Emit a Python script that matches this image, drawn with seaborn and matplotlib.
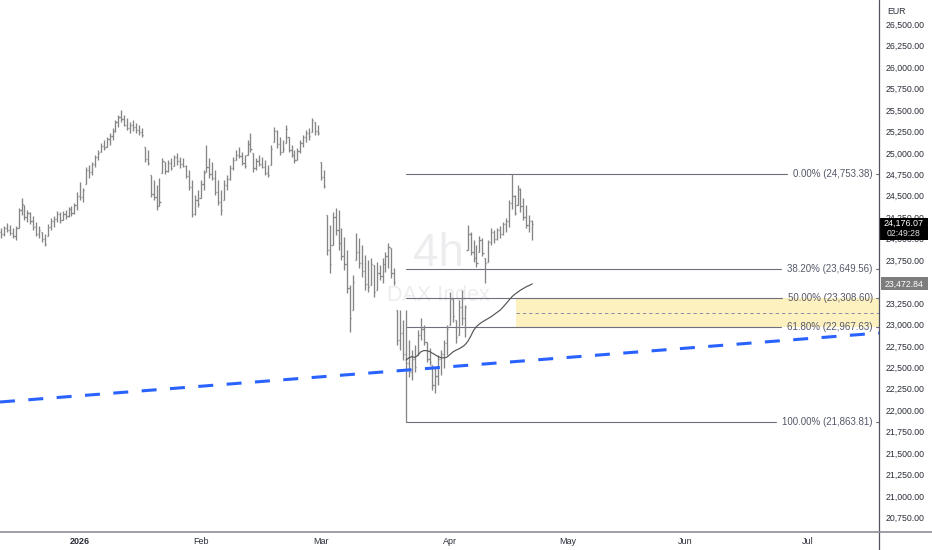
import numpy as np
import pandas as pd
import matplotlib
matplotlib.use("Agg")
import matplotlib.pyplot as plt
import seaborn as sns
from matplotlib.transforms import blended_transform_factory
from matplotlib.lines import Line2D
from matplotlib.patches import Rectangle

# ---------------- data ----------------
opens = [24080, 24060, 24120, 24100, 24070, 24030, 24125, 24330, 24390, 24250,
         24300, 24210, 24130, 24060, 24080, 24000, 24030, 24140, 24200, 24230,
         24290, 24220, 24290, 24260, 24340, 24300, 24390, 24500, 24480, 24635,
         24800, 24780, 24870, 24950, 25010, 25080, 25070, 25160, 25200, 25260,
         25360, 25420, 25400, 25330, 25290, 25320, 25300, 25270, 25240, 25070,
         24930, 24740, 24520, 24480, 24380, 24765, 24890, 24790, 24880, 24845,
         24950, 24900, 24870, 24850, 24730, 24600, 24290, 24450, 24475, 24640,
         24775, 24830, 24750, 24710, 24540, 24430, 24450, 24620, 24700, 24820,
         24920, 24980, 24960, 24880, 24975, 25100, 25000, 24820, 24900, 24870,
         24840, 24770, 24860, 25125, 25250, 25100, 25010, 25115, 25185, 25030,
         24980, 24920, 25020, 25120, 25180, 25230, 25245, 25360, 25250, 24895,
         24720, 24275, 23870, 23925, 24250, 24100, 23950, 23800, 23700, 23420,
         23170, 23750, 23850, 23720, 23620, 23470, 23460, 23695, 23400, 23600,
         23560, 23700, 23800, 23895, 23600, 23170, 22820, 22900, 22650, 22550,
         22450, 22600, 22640, 22880, 22950, 22795, 22600, 22525, 22300, 22400,
         22600, 22650, 22780, 22995, 23300, 23050, 22875, 23200, 23080, 23870,
         24050, 23850, 23780, 23845, 23980, 23775, 23730, 23960, 24080, 24000,
         24100, 24060, 24170, 24200, 24420, 24500, 24390, 24580, 24380, 24250,
         24160, 24200]
highs = [24125, 24150, 24185, 24160, 24125, 24150, 24360, 24475, 24390, 24335,
         24310, 24265, 24195, 24150, 24080, 24055, 24170, 24240, 24265, 24320,
         24310, 24320, 24335, 24370, 24380, 24415, 24545, 24660, 24590, 24835,
         24860, 24895, 24975, 25035, 25115, 25150, 25185, 25230, 25290, 25385,
         25440, 25500, 25440, 25405, 25360, 25385, 25350, 25325, 25290, 25070,
         25035, 24740, 24685, 24625, 24705, 24940, 24890, 24915, 24940, 24975,
         25000, 24950, 24940, 24860, 24800, 24685, 24510, 24570, 24685, 24800,
         25090, 24940, 24895, 24800, 24685, 24570, 24685, 24740, 24860, 24950,
         25035, 25070, 25010, 24975, 25150, 25230, 25000, 24940, 24975, 24950,
         24915, 24860, 25090, 25300, 25265, 25185, 25150, 25325, 25185, 25090,
         25035, 25055, 25150, 25210, 25265, 25290, 25405, 25360, 25325, 24895,
         24800, 24275, 24160, 24310, 24360, 24335, 24125, 24020, 23870, 23460,
         23575, 24065, 24005, 23925, 23810, 23750, 23775, 23695, 23730, 23695,
         23775, 23845, 23950, 23895, 23660, 23170, 23170, 23050, 23170, 22820,
         22700, 22760, 22935, 23075, 22990, 22795, 22725, 22525, 22490, 22640,
         22700, 22820, 22995, 23380, 23310, 23050, 23285, 23400, 23225, 24160,
         24080, 23985, 23925, 24030, 24005, 23775, 23985, 24125, 24100, 24125,
         24150, 24195, 24240, 24450, 24753.38, 24510, 24625, 24590, 24475, 24390,
         24275, 24215]
lows = [24005, 24030, 24080, 24040, 24005, 23985, 24125, 24275, 24215, 24195,
        24170, 24100, 24030, 24010, 23960, 23915, 24030, 24100, 24135, 24195,
        24180, 24215, 24230, 24250, 24265, 24290, 24335, 24450, 24430, 24635,
        24705, 24740, 24835, 24915, 25010, 25035, 25070, 25090, 25150, 25245,
        25300, 25360, 25310, 25265, 25230, 25255, 25230, 25210, 25185, 24895,
        24860, 24485, 24450, 24335, 24380, 24765, 24750, 24775, 24800, 24845,
        24860, 24825, 24830, 24705, 24570, 24250, 24275, 24370, 24475, 24565,
        24775, 24705, 24685, 24510, 24390, 24275, 24450, 24565, 24685, 24800,
        24915, 24940, 24860, 24825, 24975, 25010, 24780, 24800, 24845, 24825,
        24740, 24715, 24860, 25125, 25055, 24975, 25010, 25115, 25010, 24950,
        24880, 24915, 24995, 25070, 25125, 25150, 25245, 25210, 25210, 24685,
        24590, 23810, 23600, 23925, 24045, 23870, 23750, 23635, 23365, 22910,
        23170, 23750, 23660, 23555, 23400, 23380, 23460, 23320, 23400, 23520,
        23480, 23610, 23660, 23545, 23460, 22760, 22700, 22590, 21863.81, 22385,
        22350, 22445, 22640, 22820, 22760, 22560, 22525, 22235, 22200, 22290,
        22410, 22490, 22645, 22995, 23030, 22785, 22875, 22995, 22855, 23870,
        23810, 23730, 23670, 23845, 23795, 23480, 23730, 23925, 23950, 23985,
        24010, 24045, 24080, 24135, 24350, 24275, 24390, 24310, 24215, 24125,
        24080, 23985]
closes = [24060, 24120, 24100, 24070, 24030, 24120, 24330, 24400, 24250, 24300,
          24210, 24130, 24060, 24100, 24000, 23940, 24140, 24200, 24230, 24290,
          24220, 24290, 24260, 24340, 24300, 24390, 24500, 24480, 24570, 24800,
          24780, 24870, 24950, 25000, 25080, 25060, 25160, 25200, 25260, 25360,
          25420, 25400, 25330, 25290, 25320, 25300, 25270, 25240, 25210, 24930,
          24880, 24520, 24480, 24380, 24430, 24900, 24790, 24880, 24820, 24950,
          24900, 24870, 24850, 24730, 24600, 24290, 24450, 24400, 24640, 24760,
          24830, 24750, 24710, 24540, 24430, 24330, 24620, 24700, 24820, 24920,
          24980, 24960, 24880, 24850, 25100, 25040, 24820, 24900, 24870, 24840,
          24770, 24740, 25040, 25250, 25100, 25010, 25040, 25280, 25030, 24980,
          24920, 25020, 25120, 25180, 25230, 25200, 25380, 25250, 25230, 24720,
          24610, 23870, 23700, 24250, 24100, 23950, 23800, 23700, 23420, 23080,
          23500, 23850, 23720, 23620, 23470, 23440, 23700, 23380, 23600, 23560,
          23700, 23800, 23900, 23600, 23500, 22820, 22900, 22650, 22550, 22450,
          22600, 22500, 22880, 22950, 22800, 22600, 22560, 22300, 22400, 22600,
          22650, 22780, 22950, 23300, 23100, 22850, 23200, 23080, 23200, 24050,
          23850, 23780, 23720, 23980, 23830, 23720, 23960, 24080, 24000, 24100,
          24060, 24170, 24200, 24420, 24500, 24300, 24580, 24380, 24250, 24160,
          24200, 24176.07]

ma_start_bar = 138
ma_values = [22586, 22610, 22625, 22615, 22640, 22680, 22695, 22695, 22685, 22665,
             22645, 22625, 22612, 22610, 22620, 22650, 22680, 22700, 22715, 22735,
             22760, 22800, 22860, 22930, 22975, 23005, 23030, 23050, 23070, 23090,
             23115, 23140, 23165, 23200, 23240, 23280, 23320, 23350, 23375, 23400,
             23420, 23440, 23455, 23472.84]

fib_labels = ["0.00%", "38.20%", "50.00%", "61.80%", "100.00%"]
fib_prices = [24753.38, 23649.56, 23308.60, 22967.63, 21863.81]
fib_anchor_bar = 138

zone_top = 23308.60
zone_bottom = 22967.63
zone_start_bar = 175.5

trend_bars = [0, 181]
trend_prices = [22097, 22583]

month_labels = ["2026", "Feb", "Mar", "Apr", "May", "Jun", "Jul"]
month_bars = [27, 68, 109, 153, 193, 233, 275]

ytick_values = [20750, 21000, 21250, 21500, 21750, 22000, 22250, 22500, 22750,
                23000, 23250, 23500, 23750, 24000, 24250, 24500, 24750, 25000,
                25250, 25500, 25750, 26000, 26250, 26500]

last_price = 24176.07
countdown = "02:49:28"
ma_last = 23472.84

# ---------------- styling ----------------
sns.set_theme(style="white")
plt.rcParams['font.family'] = ['Liberation Sans', 'DejaVu Sans']

W, H = 932, 550
fig = plt.figure(figsize=(W / 100, H / 100), dpi=100)
fig.patch.set_facecolor("white")
ax_left_px, ax_right_px, ax_bottom_px = 0, 879, 531.7
ax = fig.add_axes([ax_left_px / W, (H - ax_bottom_px) / H,
                   (ax_right_px - ax_left_px) / W, ax_bottom_px / H])
ax.set_facecolor("white")
for s in ax.spines.values():
    s.set_visible(False)
ax.grid(False)

ax.set_xlim(-0.34, 299.15)
ax.set_ylim(20584.5, 26781.5)

df = pd.DataFrame({"open": opens, "high": highs, "low": lows, "close": closes})
df["bar"] = np.arange(len(df))

# watermark
ax.text(0.4985, 0.522, "4h", transform=ax.transAxes, ha="center", va="center",
        fontsize=33, color="#ededf0", zorder=0)
ax.text(0.4985, 0.445, "DAX Index", transform=ax.transAxes, ha="center", va="center",
        fontsize=15.5, color="#ededf0", zorder=0)

# yellow zone
ax.add_patch(Rectangle((zone_start_bar, zone_bottom), 400, zone_top - zone_bottom,
                       facecolor="#fdf1c0", edgecolor="none", zorder=1))
ax.plot([zone_start_bar, 400], [(zone_top + zone_bottom) / 2] * 2, color="#8f88aa",
        lw=0.7, dashes=(3.5, 3), zorder=2)

# OHLC bars
bar_color = "#858585"
lw_px = 0.95
ax.vlines(df["bar"], df["low"], df["high"], color=bar_color, lw=lw_px, zorder=3)
ax.hlines(df["open"], df["bar"] - 0.4, df["bar"], color=bar_color, lw=lw_px, zorder=3)
ax.hlines(df["close"], df["bar"], df["bar"] + 0.4, color=bar_color, lw=lw_px, zorder=3)

# moving average line
ma_df = pd.DataFrame({"bar": np.arange(ma_start_bar, ma_start_bar + len(ma_values)),
                      "ma": ma_values})
sns.lineplot(data=ma_df, x="bar", y="ma", ax=ax, color="#555555", lw=0.85, zorder=4)
ax.set_xlabel("")
ax.set_ylabel("")

# blue dashed trend line
ax.axline((trend_bars[0], trend_prices[0]), (trend_bars[1], trend_prices[1]),
          color="#2962ff", lw=2.2, dashes=(4.9, 4.4), zorder=5)

# fib levels
fib_color = "#6e717d"
fib_text_color = "#555869"
trans = blended_transform_factory(ax.transAxes, ax.transData)
texts = []
for lab, p in zip(fib_labels, fib_prices):
    t = ax.text(872.7 / 879, p, f"{lab} ({p:,.2f})", transform=trans, ha="right",
                va="center", fontsize=7, color=fib_text_color, zorder=6)
    texts.append(t)
fig.canvas.draw()
renderer = fig.canvas.get_renderer()
for t, p in zip(texts, fib_prices):
    bb = t.get_window_extent(renderer)
    x_end = ax.transData.inverted().transform((bb.x0 - 6, 0))[0]
    x_restart = ax.transData.inverted().transform((bb.x1 + 3, 0))[0]
    ax.plot([fib_anchor_bar, x_end], [p, p], color=fib_color, lw=0.8, zorder=2.5)
    ax.plot([x_restart, 299.15], [p, p], color=fib_color, lw=0.8, zorder=2.5)

# y axis on right
ax.yaxis.tick_right()
ax.set_yticks(ytick_values)
ax.set_yticklabels([f"{v:,.2f}" for v in ytick_values])
ax.tick_params(axis="y", length=0, pad=4.8, labelsize=6.3, labelcolor="#2a2e39")

# x axis month labels
ax.set_xticks(month_bars)
ax.set_xticklabels(month_labels)
ax.tick_params(axis="x", length=0, pad=3.6, labelsize=6.5, labelcolor="#2a2e39")
ax.get_xticklabels()[0].set_fontweight("bold")

# frame lines
fig.add_artist(Line2D([ax_right_px / W] * 2, [0, 1], transform=fig.transFigure,
                      color="#50535e", lw=0.9))
fig.add_artist(Line2D([0, 1], [(H - ax_bottom_px) / H] * 2, transform=fig.transFigure,
                      color="#8d8f96", lw=1.2))

# currency header
fig.add_artist(Rectangle((880 / W, (H - 20.5) / H), 52 / W, 20.5 / H,
                         transform=fig.transFigure, facecolor="white", edgecolor="none"))
fig.text(887.5 / W, (H - 11) / H, "EUR", ha="left", va="center", fontsize=6.3,
         color="#2a2e39")

# price boxes on the axis
def ypix(price):
    return ax.transData.transform((0, price))[1]

yp = ypix(last_price)
fig.add_artist(Rectangle((879.5 / W, (yp - 16.4) / H), 48.5 / W, 22 / H,
                         transform=fig.transFigure, facecolor="black", edgecolor="none"))
fig.text(903.5 / W, yp / H, f"{last_price:,.2f}", ha="center", va="center",
         fontsize=6.4, color="white")
fig.text(903.5 / W, (yp - 10.3) / H, countdown, ha="center", va="center",
         fontsize=6.2, color="#e0e0e0")

ym = ypix(ma_last)
fig.add_artist(Rectangle((880.5 / W, (ym - 6.5) / H), 47.5 / W, 13 / H,
                         transform=fig.transFigure, facecolor="#7d7d7d", edgecolor="none"))
fig.text(904 / W, ym / H, f"{ma_last:,.2f}", ha="center", va="center",
         fontsize=6.3, color="white")

fig.savefig("out.png", dpi=100, facecolor="white")
